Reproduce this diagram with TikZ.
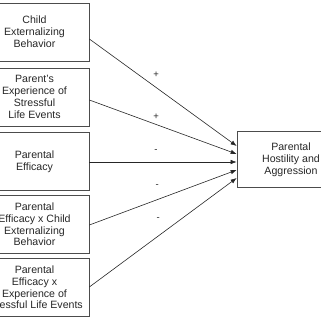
\documentclass[tikz,border=0pt]{standalone}
\usepackage{fontspec}
\setmainfont{Liberation Sans}
\usetikzlibrary{calc,arrows.meta}

\tikzset{
  varbox/.style={draw=black!70, line width=0.7pt, align=center, inner sep=0pt,
    minimum width=109pt, minimum height=58pt, text=black!85,
    font=\fontsize{10.6}{11.8}\selectfont},
  path/.style={line width=0.6pt, draw=black!85, -{Latex[length=6pt,width=4.5pt]}},
  sign/.style={font=\fontsize{9.5}{10}\selectfont, inner sep=0pt, text=black!85}
}

\begin{document}
\begin{tikzpicture}[x=1pt, y=-1pt]
\useasboundingbox (0,0) rectangle (320,320);

% draw boxes
\node [varbox] (b1) at (34.5,32) {Child\\Externalizing\\Behavior};
\node [varbox] (b2) at (34.5,97) {Parent's\\Experience of\\Stressful\\Life Events};
\node [varbox] (b3) at (34.5,161.5) {Parental\\Efficacy};
\node [varbox] (b4) at (34.5,224.5) {Parental\\Efficacy x Child\\Externalizing\\Behavior};
\node [varbox] (b5) at (34.5,287.5) {Parental\\Efficacy x\\Experience of\\Stressful Life Events};

\node [varbox, minimum width=108pt, minimum height=56pt] (out) at (291,159.5)
  {Parental\\Hostility and\\Aggression};

% draw arrows
\draw [path] ($(b1.east)+(0,7)$) -- node [sign, pos=0.453, yshift=12.5pt] {+} ($(out.west)+(0,-13.5)$);
\draw [path] ($(b2.east)+(0,3)$) -- node [sign, pos=0.453, yshift=7.5pt] {+} ($(out.west)+(0,-5.5)$);
\draw [path] ($(b3.east)+(0,0.5)$) -- node [sign, pos=0.453, yshift=11pt] {-} ($(out.west)+(0,2.5)$);
\draw [path] ($(b4.east)+(0,0.5)$) -- node [sign, pos=0.46, yshift=14pt] {-} ($(out.west)+(0,10.5)$);
\draw [path] ($(b5.east)+(0,-0.5)$) -- node [sign, pos=0.467, yshift=16.6pt] {-} ($(out.west)+(0,18.5)$);

\end{tikzpicture}
\end{document}
